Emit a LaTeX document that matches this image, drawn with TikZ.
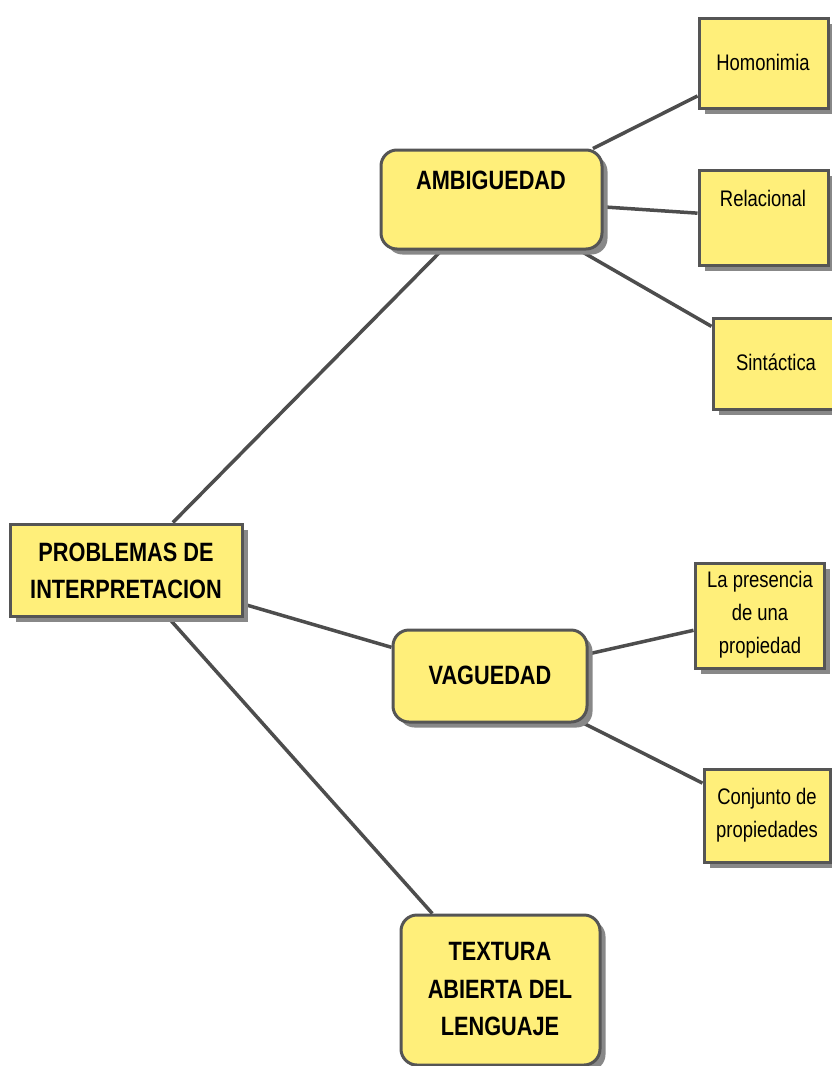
\documentclass[tikz,border=0pt]{standalone}
\usepackage{fontspec}
\setmainfont{Liberation Sans}[FakeStretch=0.82]
\usetikzlibrary{shadows,backgrounds}
\definecolor{boxfill}{RGB}{255,239,122}
\definecolor{boxline}{RGB}{85,85,85}
\definecolor{conn}{RGB}{77,77,77}
\definecolor{shade}{RGB}{136,136,136}
\tikzset{
  box/.style={draw=boxline, line width=3pt, fill=boxfill, inner sep=0pt,
    drop shadow={shadow xshift=5.5pt, shadow yshift=-5.5pt, fill=shade, opacity=1}},
  rbox/.style={box, rounded corners=16pt},
  bigtxt/.style={font=\fontsize{26.5}{37}\selectfont\bfseries, align=center, inner sep=0pt},
  smalltxt/.style={font=\fontsize{22.5}{33}\selectfont, align=center, inner sep=0pt},
  link/.style={draw=conn, line width=3.5pt}
}
\begin{document}
\begin{tikzpicture}[x=1pt,y=-1pt]
\useasboundingbox (0,0) rectangle (832,1066);
% boxes
\node[box, minimum width=232pt, minimum height=92pt] (prob) at (126,570) {};
\node[rbox, minimum width=221pt, minimum height=99pt] (amb) at (491.5,199.5) {};
\node[rbox, minimum width=194pt, minimum height=92pt] (vag) at (490,676) {};
\node[rbox, minimum width=199pt, minimum height=150pt] (tex) at (500.5,990) {};
\node[box, minimum width=129pt, minimum height=90pt] (hom) at (763.5,63) {};
\node[box, minimum width=129pt, minimum height=95pt] (rel) at (763.5,217.5) {};
\node[box, minimum width=126pt, minimum height=91pt] (sin) at (776,363.5) {};
\node[box, minimum width=129pt, minimum height=105pt] (pre) at (759.5,615.5) {};
\node[box, minimum width=126pt, minimum height=93pt] (con) at (767,815.5) {};
% texts
\node[bigtxt] (probt) at (126,571) {PROBLEMAS DE\\INTERPRETACION};
\node[bigtxt] (ambt) at (491,180) {AMBIGUEDAD};
\node[bigtxt] (vagt) at (490,675) {VAGUEDAD};
\node[bigtxt] (text) at (500,989) {TEXTURA\\ABIERTA DEL\\LENGUAJE};
\node[smalltxt] (homt) at (763,62) {Homonimia};
\node[smalltxt] (relt) at (763,198) {Relacional};
\node[smalltxt] (sint) at (776,362) {Sintáctica};
\node[smalltxt] (pret) at (760,615) {La presencia\\de una\\propiedad};
\node[smalltxt] (cont) at (767,815) {Conjunto de\\propiedades};
% connectors
\begin{scope}[on background layer]
\draw[link] (prob) -- (amb);
\draw[link] (prob) -- (vag);
\draw[link] (prob) -- (tex);
\draw[link] (amb) -- (hom);
\draw[link] (amb) -- (rel);
\draw[link] (amb) -- (sin);
\draw[link] (vag) -- (pre);
\draw[link] (vag) -- (con);
\end{scope}
\end{tikzpicture}
\end{document}
